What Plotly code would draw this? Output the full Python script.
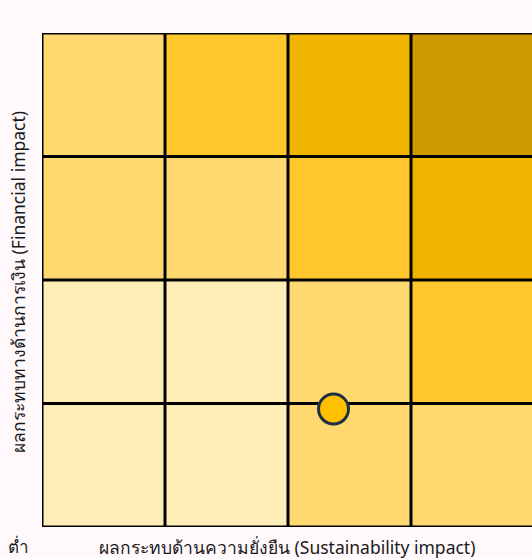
import plotly.graph_objects as go

# Data
col_centers = [0.5, 1.5, 2.5, 3.5]
row_centers = [0.5, 1.5, 2.5, 3.5]
# intensity level per cell (rows bottom->top)
levels = [
    [0, 0, 1, 1],
    [0, 0, 1, 2],
    [1, 1, 2, 3],
    [1, 2, 3, 4],
]
level_colors = ["#FFEDB8", "#FFD96F", "#FFC72C", "#EFB300", "#CC9900"]
grid_edges = [0, 1, 2, 3, 4]
point_x = [2.37]
point_y = [0.955]
x_title = "ผลกระทบด้านความยั่งยืน (Sustainability impact)"
y_title = "ผลกระทบทางด้านการเงิน (Financial impact)"
low_label = "ต่ำ"

n = len(level_colors)
colorscale = []
for i, c in enumerate(level_colors):
    colorscale.append([i / n, c])
    colorscale.append([(i + 1) / n, c])

fig = go.Figure()
fig.add_trace(go.Heatmap(
    x=col_centers, y=row_centers, z=levels,
    colorscale=colorscale, zmin=-0.5, zmax=n - 0.5,
    showscale=False, hoverinfo="skip",
))

# grid lines as a line trace (below the marker)
gx, gy = [], []
for e in grid_edges[:-1]:
    gx += [e, e, None]
    gy += [grid_edges[0], grid_edges[-1], None]
for e in grid_edges:
    gx += [grid_edges[0], grid_edges[-1], None]
    gy += [e, e, None]
fig.add_trace(go.Scatter(x=gx, y=gy, mode="lines",
                         line=dict(color="black", width=3),
                         hoverinfo="skip", showlegend=False))

fig.add_trace(go.Scatter(
    x=point_x, y=point_y, mode="markers",
    marker=dict(size=30, color="#FFC000", line=dict(color="#1B2F45", width=3)),
    showlegend=False,
))

bg = "#FFF9FC"
W = 490.0
H = 494.0
fig.update_layout(
    width=532, height=558,
    margin=dict(l=42, r=0, t=33, b=31),
    paper_bgcolor=bg, plot_bgcolor=bg,
    font=dict(family="Noto Sans, Tahoma, sans-serif", color="#1a1a1a"),
    xaxis=dict(range=[0, 490 / 123], showgrid=False, zeroline=False,
               showticklabels=False, ticks="", fixedrange=True),
    yaxis=dict(range=[0, 4], showgrid=False, zeroline=False,
               showticklabels=False, ticks="", fixedrange=True),
    showlegend=False,
    annotations=[
        dict(text=x_title, xref="paper", yref="paper", x=(287 - 42) / W, y=-20 / H,
             xanchor="center", yanchor="middle", showarrow=False, font=dict(size=17.5)),
        dict(text=y_title, xref="paper", yref="paper", x=-24 / W, y=(527 - 282) / H,
             xanchor="center", yanchor="middle", showarrow=False, textangle=-90,
             font=dict(size=17.5)),
        dict(text=low_label, xref="paper", yref="paper", x=-24 / W, y=-19 / H,
             xanchor="center", yanchor="middle", showarrow=False, borderpad=0,
             font=dict(size=17)),
    ],
)
fig.write_html(
    "out.html",
    config={"displayModeBar": False},
    post_script="document.body.style.margin='0';document.body.style.overflow='hidden';"
                "document.body.style.background='" + bg + "';",
)
